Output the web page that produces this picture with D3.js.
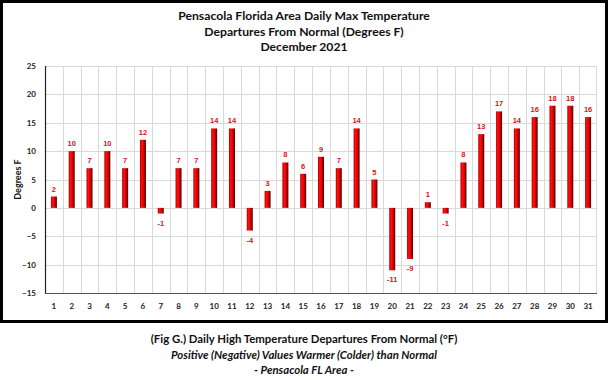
<!DOCTYPE html>
<html>
<head>
<meta charset="utf-8">
<script src="https://cdn.jsdelivr.net/npm/d3@7"></script>
<style>
  body { margin: 0; background: #fff; }
  svg { display: block; font-family: Lato, "Open Sans", sans-serif; }
</style>
</head>
<body>
<svg id="chart" width="608" height="380"></svg>
<script>
const days = d3.range(1, 32);
const departures = [2, 10, 7, 10, 7, 12, -1, 7, 7, 14, 14, -4, 3, 8, 6, 9, 7, 14, 5, -11, -9, 1, -1, 8, 13, 17, 14, 16, 18, 18, 16];
const yTicks = [-15, -10, -5, 0, 5, 10, 15, 20, 25];
const titleLines = ['Pensacola Florida Area Daily Max Temperature', 'Departures From Normal (Degrees F)', 'December 2021'];
const captionLines = ['(Fig G.) Daily High Temperature Departures From Normal (°F)', 'Positive (Negative) Values Warmer (Colder) than Normal', '- Pensacola FL Area -'];

const svg = d3.select('#chart');
const margin = { left: 45, top: 66, right: 597, bottom: 293 };

const defs = svg.append('defs');
const grad = defs.append('linearGradient').attr('id', 'barGrad')
  .attr('x1', '0%').attr('x2', '100%').attr('y1', '0%').attr('y2', '0%');
grad.append('stop').attr('offset', '0%').attr('stop-color', '#b00000');
grad.append('stop').attr('offset', '30%').attr('stop-color', '#ff1010');
grad.append('stop').attr('offset', '65%').attr('stop-color', '#d80000');
grad.append('stop').attr('offset', '100%').attr('stop-color', '#4a0000');

// chart frame
svg.append('rect')
  .attr('x', 1.5).attr('y', 1.5)
  .attr('width', 605).attr('height', 320)
  .attr('fill', '#fff')
  .attr('stroke', '#000')
  .attr('stroke-width', 3);

const x = d3.scaleBand().domain(days).range([margin.left, margin.right]);
const y = d3.scaleLinear().domain([-15, 25]).range([margin.bottom, margin.top]);

// grid
const grid = svg.append('g').attr('stroke', '#d9d9d9').attr('stroke-width', 1);
grid.selectAll('line.h')
  .data(yTicks)
  .enter()
  .append('line')
  .attr('class', 'h')
  .attr('x1', margin.left).attr('x2', margin.right)
  .attr('y1', (d) => Math.round(y(d)) + 0.5)
  .attr('y2', (d) => Math.round(y(d)) + 0.5);
grid.selectAll('line.v')
  .data(days.slice(1))
  .enter()
  .append('line')
  .attr('class', 'v')
  .attr('x1', (d) => Math.round(x(d)) + 0.5)
  .attr('x2', (d) => Math.round(x(d)) + 0.5)
  .attr('y1', margin.top).attr('y2', margin.bottom);

// plot border
svg.append('rect')
  .attr('x', margin.left + 0.5).attr('y', margin.top + 0.5)
  .attr('width', margin.right - margin.left - 1)
  .attr('height', margin.bottom - margin.top)
  .attr('fill', 'none')
  .attr('stroke', '#d9d9d9');
svg.append('line')
  .attr('x1', margin.left + 0.5).attr('x2', margin.left + 0.5)
  .attr('y1', margin.top).attr('y2', margin.bottom + 1)
  .attr('stroke', '#222').attr('stroke-width', 1.2);
svg.append('line')
  .attr('x1', margin.left).attr('x2', margin.right)
  .attr('y1', margin.bottom + 0.5).attr('y2', margin.bottom + 0.5)
  .attr('stroke', '#555').attr('stroke-width', 1.2);

// y axis
const yAxis = svg.append('g')
  .attr('transform', `translate(${margin.left},0)`)
  .call(d3.axisLeft(y).tickValues(yTicks).tickSize(0).tickPadding(9));
yAxis.select('.domain').remove();
yAxis.selectAll('text')
  .attr('font-family', 'Lato, sans-serif')
  .attr('font-size', 8)
  .attr('font-weight', 'bold')
  .attr('fill', '#222');

// x axis
const xAxis = svg.append('g')
  .attr('transform', `translate(0,${margin.bottom})`)
  .call(d3.axisBottom(x).tickSize(0).tickPadding(10));
xAxis.select('.domain').remove();
xAxis.selectAll('text')
  .attr('font-family', 'Lato, sans-serif')
  .attr('font-size', 8)
  .attr('font-weight', 'bold')
  .attr('fill', '#222');

svg.append('text')
  .attr('transform', `translate(21,${(margin.top + margin.bottom) / 2}) rotate(-90)`)
  .attr('text-anchor', 'middle')
  .attr('font-size', 9)
  .attr('font-weight', 'bold')
  .attr('fill', '#111')
  .text('Degrees F');

// bars
const barW = 6;
svg.append('g')
  .selectAll('rect')
  .data(departures)
  .enter()
  .append('rect')
  .attr('x', (d, i) => x(days[i]) + x.bandwidth() / 2 - barW / 2)
  .attr('y', (d) => y(Math.max(0, d)))
  .attr('width', barW)
  .attr('height', (d) => Math.abs(y(d) - y(0)))
  .attr('fill', 'url(#barGrad)');

// value labels
svg.append('g')
  .selectAll('text')
  .data(departures)
  .enter()
  .append('text')
  .attr('x', (d, i) => x(days[i]) + x.bandwidth() / 2)
  .attr('y', (d) => (d >= 0 ? y(d) - 5 : y(d) + 12))
  .attr('text-anchor', 'middle')
  .attr('font-family', '"Liberation Sans", Arial, sans-serif')
  .attr('font-size', 7.5)
  .attr('font-weight', 'bold')
  .attr('fill', '#d41515')
  .text((d) => d);

// title
svg.append('g')
  .selectAll('text')
  .data(titleLines)
  .enter()
  .append('text')
  .attr('x', 304)
  .attr('y', (d, i) => 20 + i * 15.5)
  .attr('text-anchor', 'middle')
  .attr('font-size', 12.2)
  .attr('font-weight', 'bold')
  .attr('fill', '#111')
  .text((d) => d);

// caption
svg.append('g')
  .selectAll('text')
  .data(captionLines)
  .enter()
  .append('text')
  .attr('x', 304)
  .attr('y', (d, i) => 343 + i * 15.5)
  .attr('text-anchor', 'middle')
  .attr('font-size', 11.4)
  .attr('font-weight', 'bold')
  .attr('font-style', (d, i) => (i === 0 ? 'normal' : 'italic'))
  .attr('fill', '#111')
  .text((d) => d);
</script>
</body>
</html>
